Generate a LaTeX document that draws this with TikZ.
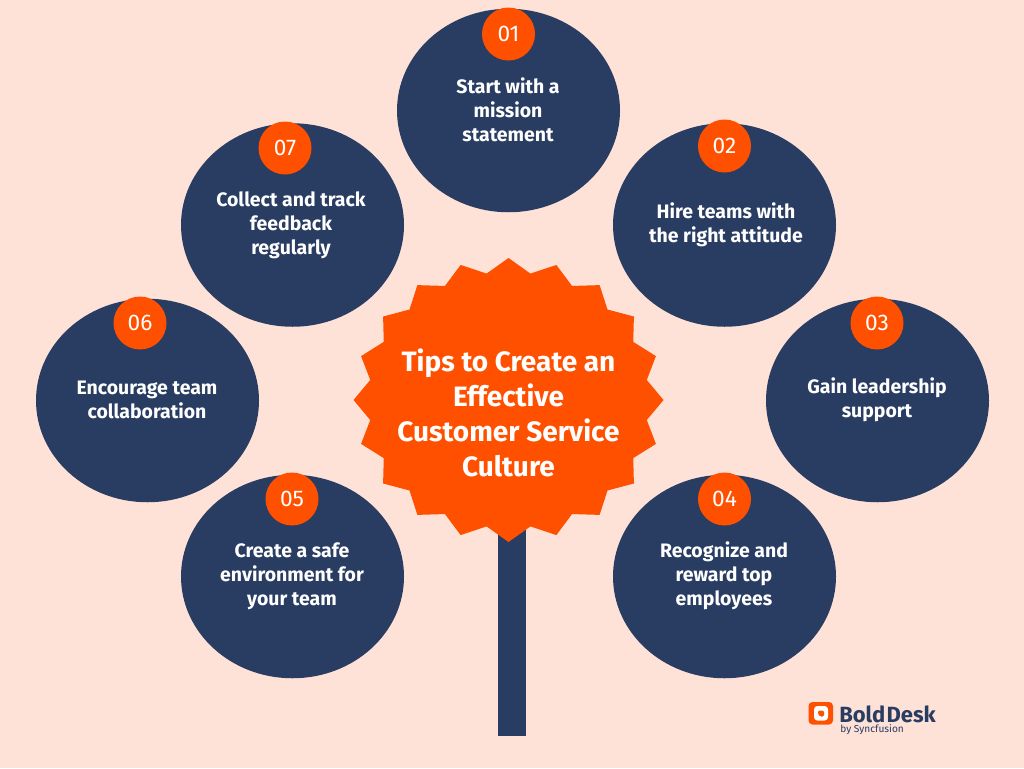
\documentclass[tikz,border=0pt]{standalone}
\usepackage{fontspec}
\setmainfont{Fira Sans}
\usetikzlibrary{shapes.geometric,backgrounds}
\definecolor{bgc}{HTML}{FEE2D8}
\definecolor{navy}{HTML}{293C62}
\definecolor{burst}{HTML}{FF5000}
\definecolor{wire}{HTML}{3A3F4A}
\pgfdeclarelayer{wires}
\pgfsetlayers{background,wires,main}
\tikzset{
  bubble/.style={ellipse,fill=navy,minimum width=223*0.75pt,minimum height=203.5*0.75pt,inner sep=0pt},
  badge/.style={circle,fill=burst,minimum size=53*0.75pt,inner sep=0pt,text=white,font=\fontsize{17}{20}\selectfont},
  tip/.style={align=center,text=white,inner sep=0pt,font=\fontsize{14.6}{18}\selectfont\bfseries},
  title/.style={align=center,text=white,inner sep=0pt,font=\fontsize{21}{26.3}\selectfont\bfseries},
  wirel/.style={draw=wire,line width=0.7pt},
}
\begin{document}
\begin{tikzpicture}[x=0.75pt,y=-0.75pt]
\fill[bgc] (0,0) rectangle (1024,768);
\fill[navy] (498,500) rectangle (526,736);
\foreach \i in {0,...,39}{
  \pgfmathsetmacro{\t}{9*\i}
  \pgfmathsetmacro{\ra}{mod(\i,2)==0 ? 155 : 140}
  \pgfmathsetmacro{\rb}{mod(\i,2)==0 ? 142 : 128}
  \coordinate (s\i) at ({508.5+\ra*sin(\t)},{400-\rb*cos(\t)});
}
\fill[burst] (s0) \foreach \i in {1,...,39}{ -- (s\i)} -- cycle;
\node[title] (hub) at (508.5,412.5) {Tips to Create an\\Effective\\Customer Service\\Culture};

\node[bubble] (c1) at (508.5,110.5) {};
\node[bubble] (c2) at (724.5,225) {};
\node[bubble] (c3) at (877.5,400.5) {};
\node[bubble] (c4) at (724.5,576.5) {};
\node[bubble] (c5) at (292.5,576.5) {};
\node[bubble] (c6) at (147.5,400.5) {};
\node[bubble] (c7) at (292.5,225) {};

\begin{pgfonlayer}{wires}
\draw[wirel] (c1.center) -- (s0);
\draw[wirel] (c2.215) -- (s5);
\draw[wirel] (c3.center) -- (s10);
\draw[wirel] (c4.145) -- (s15);
\draw[wirel] (c5.35) -- (s25);
\draw[wirel] (c6.center) -- (s30);
\draw[wirel] (c7.325) -- (s35);
\end{pgfonlayer}

\node[badge] (b1) at (508.5,34) {01};
\node[badge] (b2) at (724.5,146) {02};
\node[badge] (b3) at (877,323) {03};
\node[badge] (b4) at (724.5,499) {04};
\node[badge] (b5) at (292,499) {05};
\node[badge] (b6) at (140,323) {06};
\node[badge] (b7) at (285,148) {07};

\node[tip] (t1) at (508,110) {Start with a\\mission\\statement};
\node[tip] (t2) at (726,225) {Hire teams with\\the right attitude};
\node[tip] (t3) at (877,400) {Gain leadership\\support};
\node[tip] (t4) at (724,576) {Recognize and\\reward top\\employees};
\node[tip] (t5) at (292,576) {Create a safe\\environment for\\your team};
\node[tip] (t6) at (147,400) {Encourage team\\collaboration};
\node[tip] (t7) at (291,225) {Collect and track\\feedback\\regularly};

\fill[burst,rounded corners=3pt] (808.5,702) rectangle (833,724.5);
\fill[white,rounded corners=2.5pt] (814,706) rectangle (828,720.5);
\fill[burst,rounded corners=1pt] (818,710.5) -- (824,710.5) -- (824,716.5) -- (820,716.5) -- (818,714) -- cycle;
\node[text=navy,inner sep=0pt,anchor=west,font=\fontsize{16.5}{18}\selectfont\bfseries] (lg) at (839,714) {Bold\hspace{1pt}Desk};
\node[text=navy,inner sep=0pt,anchor=west,font=\fontsize{7.6}{9}\selectfont] (lgs) at (840,730) {by Syncfusion};
\end{tikzpicture}
\end{document}
